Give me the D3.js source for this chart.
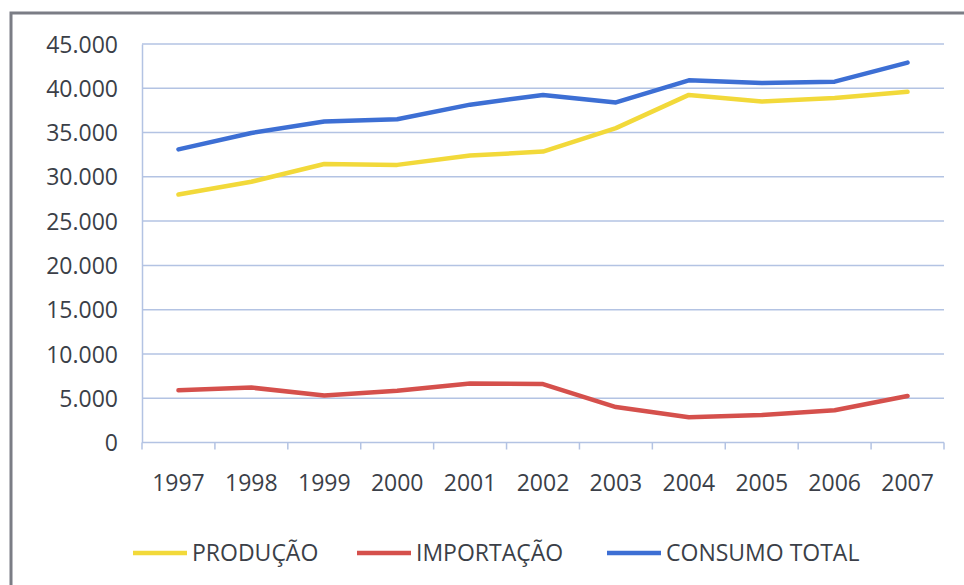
<!DOCTYPE html>
<html>
<head>
<meta charset="utf-8">
<script src="https://cdn.jsdelivr.net/npm/d3@7"></script>
<style>
  body { margin: 0; background: #fff; }
  svg text { font-family: "Open Sans", sans-serif; fill: #3b3f48; }
</style>
</head>
<body>
<svg id="chart" width="964" height="585"></svg>
<script>
const years = ["1997","1998","1999","2000","2001","2002","2003","2004","2005","2006","2007"];
const producao = [28000, 29450, 31450, 31350, 32400, 32850, 35500, 39250, 38500, 38900, 39600];
const importacao = [5900, 6200, 5300, 5850, 6650, 6600, 4000, 2850, 3100, 3650, 5250];
const consumo = [33100, 34950, 36250, 36500, 38150, 39250, 38400, 40900, 40600, 40750, 42900];
const yTicks = [0, 5000, 10000, 15000, 20000, 25000, 30000, 35000, 40000, 45000];

const series = [
  { name: "PRODUÇÃO", values: producao, color: "#f2d93a" },
  { name: "IMPORTAÇÃO", values: importacao, color: "#d5504c" },
  { name: "CONSUMO TOTAL", values: consumo, color: "#3d6fd4" }
];

const svg = d3.select("#chart");
const margin = { left: 142, right: 20, top: 44, bottom: 142.5 };
const width = 964, height = 585;

// frame of the scanned chart
svg.append("rect")
  .attr("x", 11).attr("y", 13)
  .attr("width", 970).attr("height", 600)
  .attr("fill", "none")
  .attr("stroke", "#7b7d85")
  .attr("stroke-width", 3);

const xScale = d3.scaleBand()
  .domain(years)
  .range([margin.left, width - margin.right]);

const yScale = d3.scaleLinear()
  .domain([0, 45000])
  .range([height - margin.bottom, margin.top]);

const fmt = (d) => d3.format(",")(d).replace(/,/g, ".");

// grid
svg.append("g")
  .selectAll("line")
  .data(yTicks.filter((d) => d > 0))
  .join("line")
  .attr("x1", margin.left)
  .attr("x2", width - margin.right)
  .attr("y1", (d) => yScale(d))
  .attr("y2", (d) => yScale(d))
  .attr("stroke", "#b3c3e3")
  .attr("stroke-width", 1.5);

// y axis
const leftAxis = d3.axisLeft(yScale)
  .tickValues(yTicks)
  .tickFormat(fmt)
  .tickSize(0)
  .tickPadding(24);
const gy = svg.append("g")
  .attr("transform", `translate(${margin.left},0)`)
  .call(leftAxis);
gy.select(".domain").attr("stroke", "#b3c3e3").attr("stroke-width", 1.5);
gy.selectAll("text")
  .style("font-size", "23px")
  .attr("dy", "0.35em");

// x axis
const bottomAxis = d3.axisBottom(xScale).tickSize(0).tickPadding(32);
const gx = svg.append("g")
  .attr("transform", `translate(0,${yScale(0)})`)
  .call(bottomAxis);
gx.select(".domain").remove();
gx.selectAll("text").style("font-size", "23px");

gx.append("line")
  .attr("x1", margin.left).attr("x2", width - margin.right)
  .attr("stroke", "#b3c3e3").attr("stroke-width", 1.5);

// tick marks between the categories
const boundaries = years.map((d) => xScale(d)).concat([xScale.range()[1]]);
gx.selectAll(".bound")
  .data(boundaries)
  .join("line")
  .attr("class", "bound")
  .attr("x1", (d) => d).attr("x2", (d) => d)
  .attr("y1", 0).attr("y2", 7)
  .attr("stroke", "#b3c3e3")
  .attr("stroke-width", 1.5);

// lines
const lineGenerator = d3.line()
  .x((d, i) => xScale(years[i]) + xScale.bandwidth() / 2)
  .y((d) => yScale(d));

svg.append("g")
  .selectAll("path")
  .data(series)
  .join("path")
  .attr("d", (d) => lineGenerator(d.values))
  .attr("fill", "none")
  .attr("stroke", (d) => d.color)
  .attr("stroke-width", 4.5)
  .attr("stroke-linejoin", "round")
  .attr("stroke-linecap", "round");

// legend
const legendX = [133, 357, 607];
const legend = svg.append("g")
  .selectAll("g")
  .data(series)
  .join("g")
  .attr("transform", (d, i) => `translate(${legendX[i]},553)`);

legend.append("line")
  .attr("x1", 0).attr("x2", 54)
  .attr("stroke", (d) => d.color)
  .attr("stroke-width", 4.5);

legend.append("text")
  .attr("x", 59)
  .attr("dy", "0.35em")
  .style("font-size", "23px")
  .text((d) => d.name);
</script>
</body>
</html>
